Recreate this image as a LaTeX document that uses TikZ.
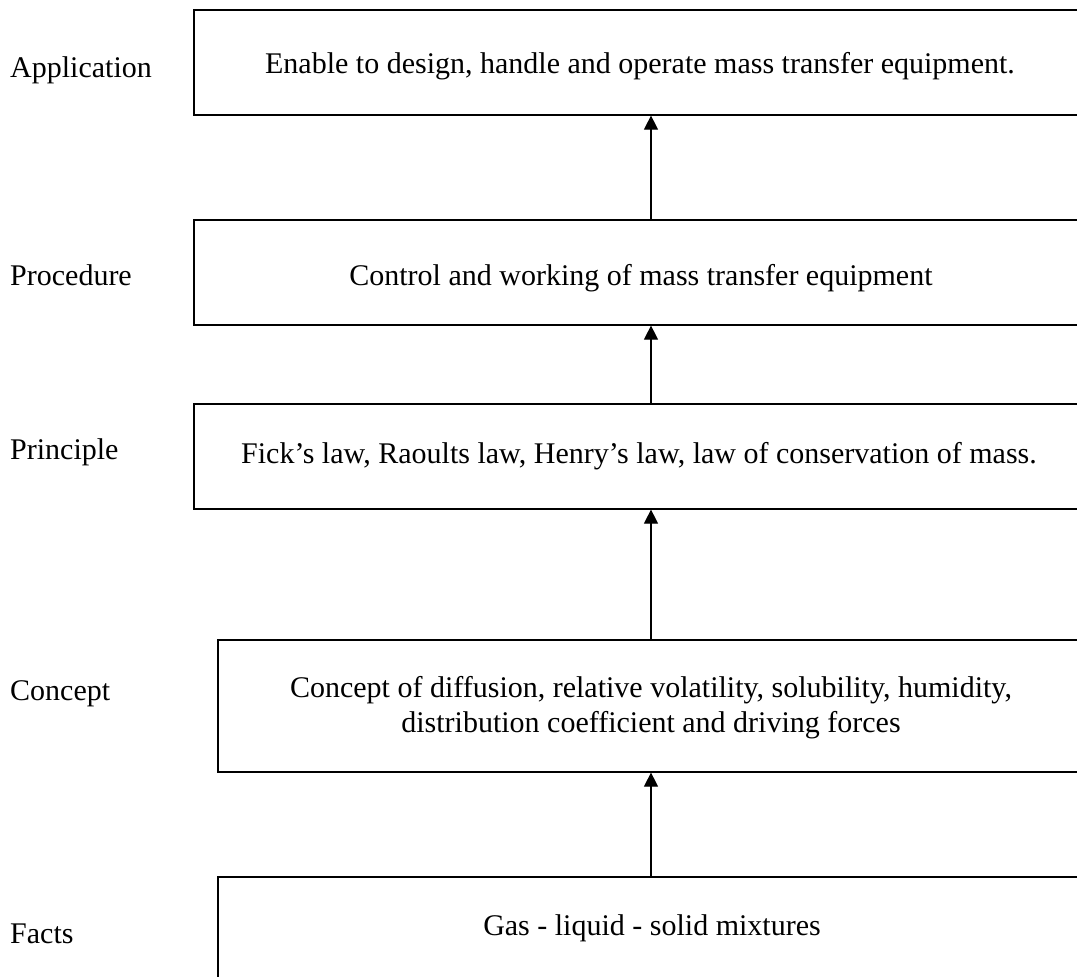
\documentclass[tikz,border=0pt]{standalone}
\usepackage{fontspec}
\setmainfont{Liberation Serif}
\usetikzlibrary{arrows.meta}
\begin{document}
\begin{tikzpicture}[x=1pt,y=-1pt,
  box/.style={draw=black,line width=1.6pt,rectangle,inner sep=0pt,anchor=north west},
  txt/.style={inner sep=0pt,anchor=base,font=\fontsize{30}{35}\selectfont,align=center},
  lab/.style={inner sep=0pt,anchor=base west,font=\fontsize{30}{35}\selectfont},
  arr/.style={line width=1.1pt,-{Triangle[width=14pt,length=14pt]}}]
\useasboundingbox (0,0) rectangle (1077,977);
\fill[white] (0,0) rectangle (1077,977);
\clip (0,0) rectangle (1077,977);
% boxes
\node[box,minimum width=894pt,minimum height=105pt] (app) at (193,9) {};
\node[box,minimum width=894pt,minimum height=105pt] (proc) at (193,219) {};
\node[box,minimum width=894pt,minimum height=105pt] (prin) at (193,403) {};
\node[box,minimum width=870pt,minimum height=132pt] (conc) at (217,639) {};
\node[box,minimum width=870pt,minimum height=114pt] (fact) at (217,876) {};
% box texts
\node[txt] (tapp) at (640,73) {Enable to design, handle and operate mass transfer equipment.};
\node[txt] (tproc) at (641,285) {Control and working of mass transfer equipment};
\node[txt] (tprin) at (639,463) {Fick’s law, Raoults law, Henry’s law, law of conservation of mass.};
\node[txt] (tconc) at (651,732) {Concept of diffusion, relative volatility, solubility, humidity,\\distribution coefficient and driving forces};
\node[txt] (tfact) at (652,935) {Gas - liquid - solid mixtures};
% left labels
\node[lab] (lapp) at (10,77) {Application};
\node[lab] (lproc) at (10,285) {Procedure};
\node[lab] (lprin) at (10,459) {Principle};
\node[lab] (lconc) at (10,700) {Concept};
\node[lab] (lfact) at (10,943) {Facts};
% arrows
\coordinate (ax) at (651,0);
\draw[arr] (fact.north -| ax) -- (conc.south -| ax);
\draw[arr] (conc.north -| ax) -- (prin.south -| ax);
\draw[arr] (prin.north -| ax) -- (proc.south -| ax);
\draw[arr] (proc.north -| ax) -- (app.south -| ax);
\end{tikzpicture}
\end{document}
